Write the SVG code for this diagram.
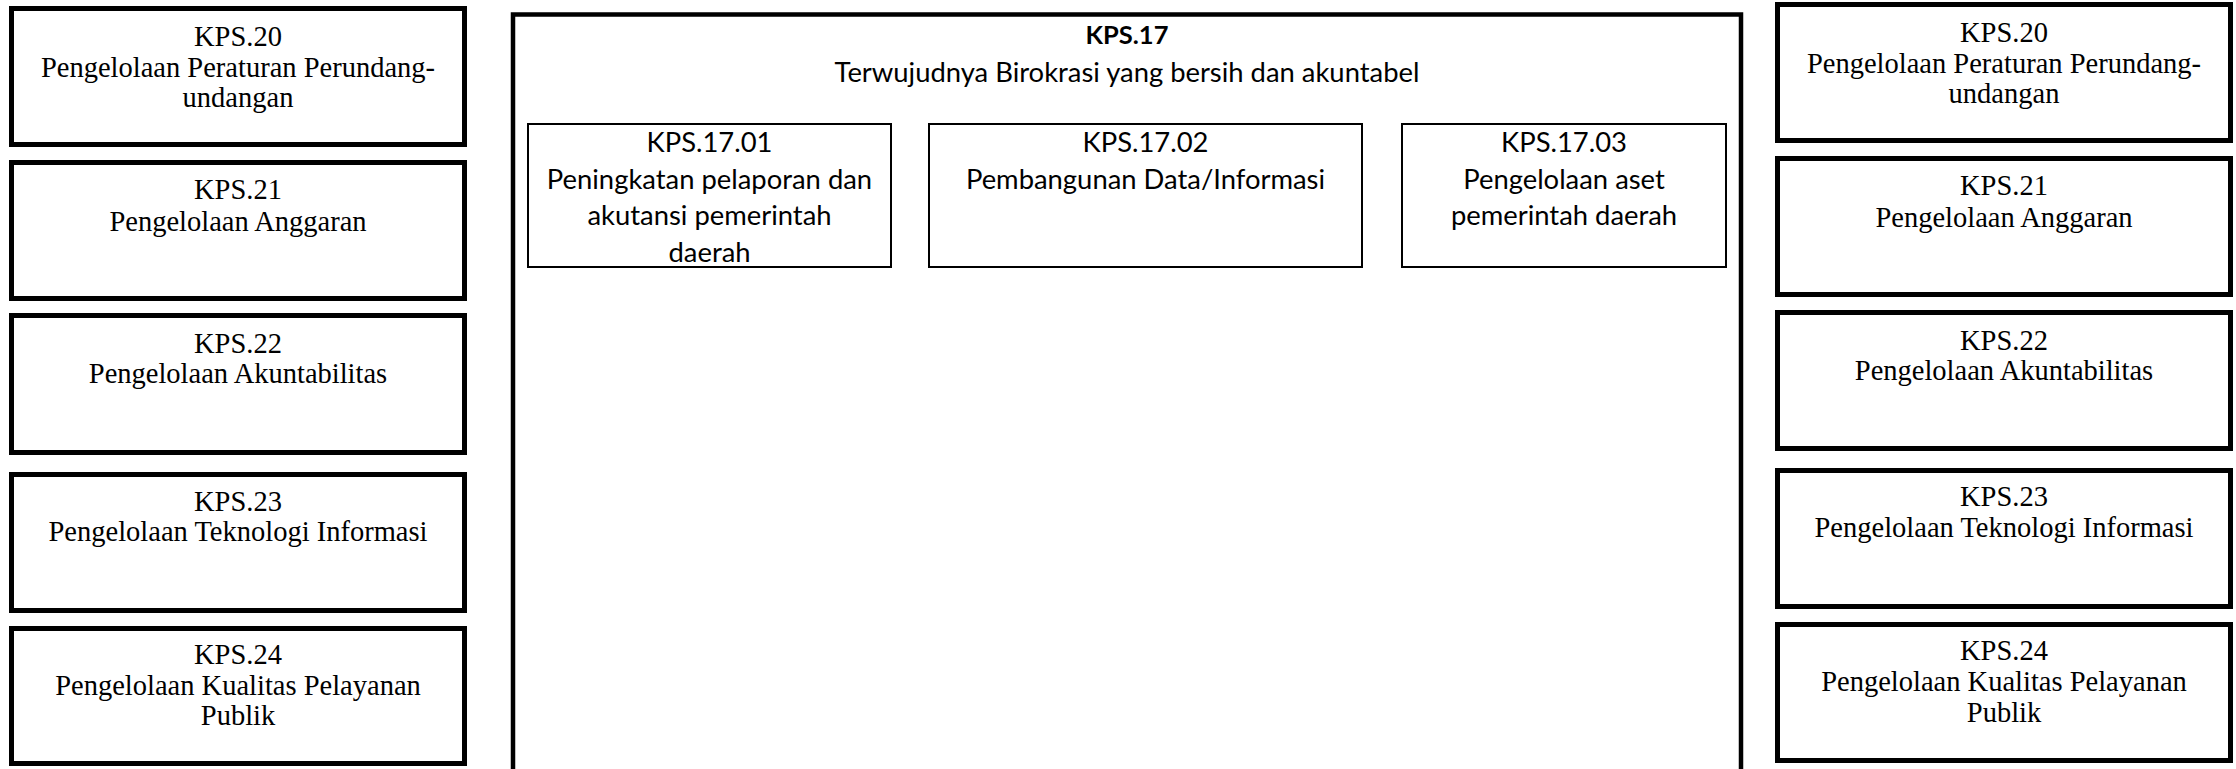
<svg xmlns="http://www.w3.org/2000/svg" width="2236" height="769" viewBox="0 0 2236 769">
<style>
.side{fill:#fff;stroke:#000;stroke-width:5}
.main{fill:#fff;stroke:#000;stroke-width:4.5}
.sub{fill:#fff;stroke:#000;stroke-width:2}
.st{font-family:"Liberation Serif","Times New Roman",serif;font-size:28.5px;fill:#000;text-anchor:middle}
.ct{font-family:Lato,"Open Sans",sans-serif;font-size:27.4px;fill:#000;text-anchor:middle}
.ctb{font-weight:bold;font-size:25.5px}
</style>
<rect width="2236" height="769" fill="#fff"/>
<g id="kps17">
<rect class="main" x="513" y="14.5" width="1228" height="800"/>
<text class="ct ctb" x="1127" y="44">KPS.17</text>
<text class="ct" x="1127" y="82">Terwujudnya Birokrasi yang bersih dan akuntabel</text>
</g>
<g id="kps1701">
<rect class="sub" x="528" y="124" width="363" height="143"/>
<text class="ct" x="709.5" y="152">KPS.17.01</text>
<text class="ct" x="709.5" y="188.5">Peningkatan pelaporan dan</text>
<text class="ct" x="709.5" y="225">akutansi pemerintah</text>
<text class="ct" x="709.5" y="261.5">daerah</text>
</g>
<g id="kps1702">
<rect class="sub" x="929" y="124" width="433" height="143"/>
<text class="ct" x="1145.5" y="152">KPS.17.02</text>
<text class="ct" x="1145.5" y="188.5">Pembangunan Data/Informasi</text>
</g>
<g id="kps1703">
<rect class="sub" x="1402" y="124" width="324" height="143"/>
<text class="ct" x="1564" y="152">KPS.17.03</text>
<text class="ct" x="1564" y="188.5">Pengelolaan aset</text>
<text class="ct" x="1564" y="225">pemerintah daerah</text>
</g>
<g id="left20">
<rect class="side" x="11.5" y="8.5" width="453" height="136"/>
<text class="st" x="238" y="46">KPS.20</text>
<text class="st" x="238" y="77">Pengelolaan Peraturan Perundang-</text>
<text class="st" x="238" y="107">undangan</text>
</g>
<g id="left21">
<rect class="side" x="11.5" y="162.5" width="453" height="136"/>
<text class="st" x="238" y="199">KPS.21</text>
<text class="st" x="238" y="231">Pengelolaan Anggaran</text>
</g>
<g id="left22">
<rect class="side" x="11.5" y="315.5" width="453" height="137"/>
<text class="st" x="238" y="353">KPS.22</text>
<text class="st" x="238" y="383">Pengelolaan Akuntabilitas</text>
</g>
<g id="left23">
<rect class="side" x="11.5" y="474.5" width="453" height="136"/>
<text class="st" x="238" y="511">KPS.23</text>
<text class="st" x="238" y="541">Pengelolaan Teknologi Informasi</text>
</g>
<g id="left24">
<rect class="side" x="11.5" y="628.5" width="453" height="135"/>
<text class="st" x="238" y="664">KPS.24</text>
<text class="st" x="238" y="695">Pengelolaan Kualitas Pelayanan</text>
<text class="st" x="238" y="725">Publik</text>
</g>
<g id="right20">
<rect class="side" x="1777.5" y="4.5" width="453" height="136"/>
<text class="st" x="2004" y="42">KPS.20</text>
<text class="st" x="2004" y="73">Pengelolaan Peraturan Perundang-</text>
<text class="st" x="2004" y="103">undangan</text>
</g>
<g id="right21">
<rect class="side" x="1777.5" y="158.5" width="453" height="136"/>
<text class="st" x="2004" y="195">KPS.21</text>
<text class="st" x="2004" y="227">Pengelolaan Anggaran</text>
</g>
<g id="right22">
<rect class="side" x="1777.5" y="312.5" width="453" height="136"/>
<text class="st" x="2004" y="350">KPS.22</text>
<text class="st" x="2004" y="380">Pengelolaan Akuntabilitas</text>
</g>
<g id="right23">
<rect class="side" x="1777.5" y="470.5" width="453" height="136"/>
<text class="st" x="2004" y="506">KPS.23</text>
<text class="st" x="2004" y="537">Pengelolaan Teknologi Informasi</text>
</g>
<g id="right24">
<rect class="side" x="1777.5" y="624.5" width="453" height="136"/>
<text class="st" x="2004" y="660">KPS.24</text>
<text class="st" x="2004" y="691">Pengelolaan Kualitas Pelayanan</text>
<text class="st" x="2004" y="722">Publik</text>
</g>
<g id="connectors"></g>
</svg>
